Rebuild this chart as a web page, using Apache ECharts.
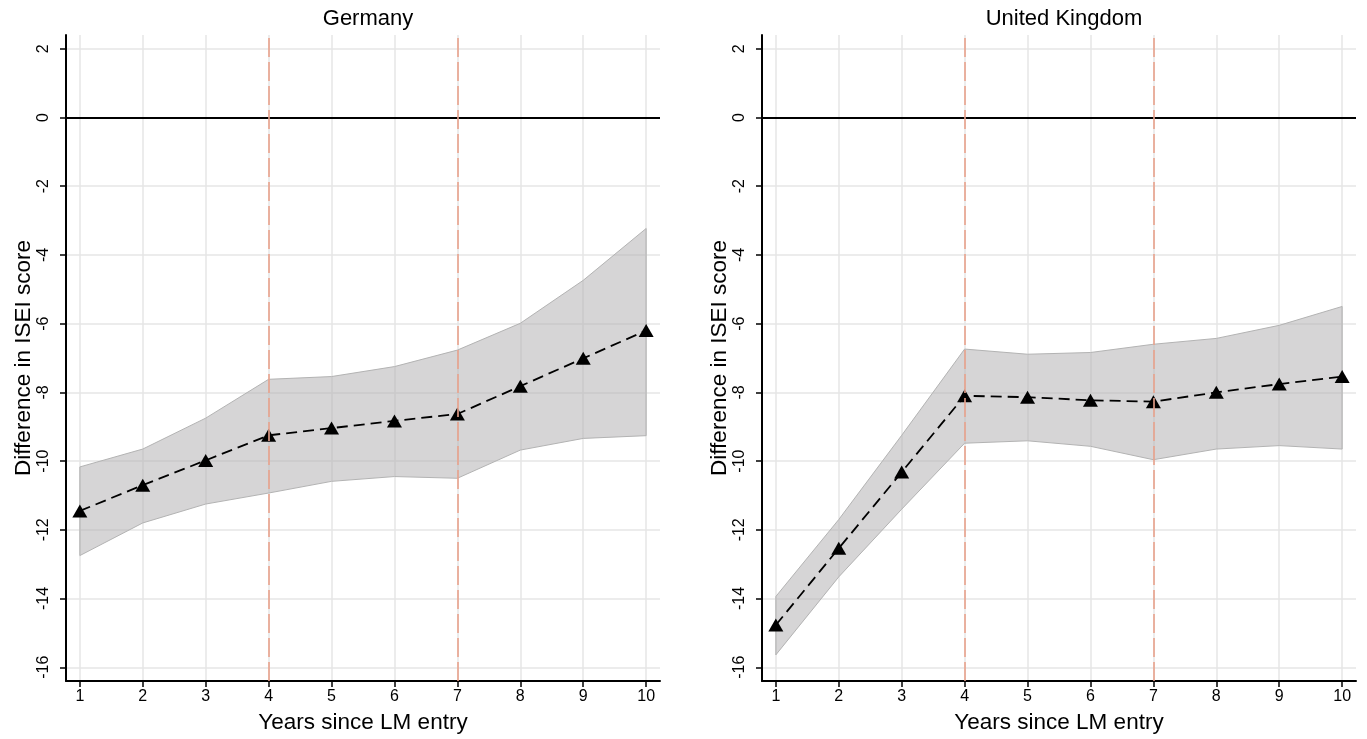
<!DOCTYPE html>
<html><head><meta charset="utf-8">
<script src="https://cdn.jsdelivr.net/npm/echarts@6/dist/echarts.min.js"></script>
<style>html,body{margin:0;padding:0;background:#fff}#c{width:1367px;height:739px}</style>
</head><body><div id="c"></div>
<script>
const years = [1, 2, 3, 4, 5, 6, 7, 8, 9, 10];
const xTicks = [1, 2, 3, 4, 5, 6, 7, 8, 9, 10];
const yTicks = [-16, -14, -12, -10, -8, -6, -4, -2, 0, 2];
const panelTitles = ['Germany', 'United Kingdom'];
const refYears = [4, 7];

const deEst   = [-11.45, -10.70, -9.98, -9.25, -9.04, -8.83, -8.63, -7.82, -7.01, -6.20];
const deUpper = [-10.17, -9.65, -8.75, -7.62, -7.54, -7.25, -6.77, -5.99, -4.74, -3.23];
const deLower = [-12.75, -11.80, -11.25, -10.93, -10.59, -10.45, -10.50, -9.68, -9.34, -9.26];

const ukEst   = [-14.77, -12.54, -10.32, -8.10, -8.14, -8.23, -8.27, -8.00, -7.76, -7.54];
const ukUpper = [-13.94, -11.70, -9.25, -6.74, -6.89, -6.84, -6.60, -6.43, -6.05, -5.50];
const ukLower = [-15.64, -13.37, -11.40, -9.48, -9.41, -9.57, -9.96, -9.65, -9.55, -9.65];

const FONT = 'Liberation Sans, Arial, Helvetica, sans-serif';
const chart = echarts.init(document.getElementById('c'));

const panels = [
  { est: deEst, up: deUpper, lo: deLower },
  { est: ukEst, up: ukUpper, lo: ukLower }
];
const gridLefts = [66, 762];

function xAxisFor(i) {
  return {
    type: 'value', gridIndex: i, min: 0.78, max: 10.22,
    axisLine: { show: true, onZero: false, lineStyle: { color: '#000', width: 2 } },
    axisTick: { show: true, length: 6, customValues: xTicks, lineStyle: { color: '#000', width: 1.5 } },
    axisLabel: { customValues: xTicks, color: '#000', fontSize: 16, margin: 8, fontFamily: FONT },
    splitLine: { show: true, lineStyle: { color: '#e6e6e6', width: 1.5 } },
    name: 'Years since LM entry', nameLocation: 'middle', nameGap: 30,
    nameTextStyle: { fontSize: 22.5, color: '#000', fontFamily: FONT }
  };
}
function yAxisFor(i) {
  return {
    type: 'value', gridIndex: i, min: -16.4, max: 2.4,
    axisLine: { show: true, onZero: false, lineStyle: { color: '#000', width: 2 } },
    axisTick: { show: true, length: 6, customValues: yTicks, lineStyle: { color: '#000', width: 1.5 } },
    axisLabel: { customValues: yTicks, rotate: 90, color: '#000', fontSize: 16, margin: 14, fontFamily: FONT },
    splitLine: { show: true, lineStyle: { color: '#e6e6e6', width: 1.5 } },
    name: 'Difference in ISEI score', nameLocation: 'middle', nameRotate: 90, nameGap: 31,
    nameTextStyle: { fontSize: 22.5, color: '#000', fontFamily: FONT }
  };
}

const series = [];
panels.forEach((p, i) => {
  const bandData = years.map((x, k) => [x, p.lo[k], p.up[k]]);
  series.push({
    type: 'custom', xAxisIndex: i, yAxisIndex: i, z: 1, silent: true,
    data: bandData,
    renderItem: function (params, api) {
      if (params.dataIndex !== 0) return;
      const pts = [];
      bandData.forEach(d => pts.push(api.coord([d[0], d[2]])));
      for (let k = bandData.length - 1; k >= 0; k--) pts.push(api.coord([bandData[k][0], bandData[k][1]]));
      return {
        type: 'polygon',
        shape: { points: pts },
        style: { fill: 'rgba(180,178,180,0.55)', stroke: '#b3b3b3', lineWidth: 1 }
      };
    }
  });
  series.push({
    type: 'line', xAxisIndex: i, yAxisIndex: i, z: 0, silent: true,
    data: [], symbol: 'none',
    markLine: {
      silent: true, symbol: 'none', label: { show: false },
      data: [
        { yAxis: 0, lineStyle: { color: '#000', width: 2, type: 'solid' } }
      ].concat(refYears.map(r => ({ xAxis: r, lineStyle: { color: '#e9a28c', width: 1.6, type: [19, 5] } })))
    }
  });
  series.push({
    type: 'line', xAxisIndex: i, yAxisIndex: i, z: 3,
    data: years.map((x, k) => [x, p.est[k]]),
    symbol: 'triangle', symbolSize: [15, 13],
    itemStyle: { color: '#000' },
    lineStyle: { color: '#000', width: 1.8, type: [11, 6] }
  });
});

chart.setOption({
  animation: false,
  backgroundColor: '#fff',
  title: panelTitles.map((t, i) => ({
    text: t, left: gridLefts[i] + 297, top: 3, textAlign: 'center',
    textStyle: { fontSize: 22, fontWeight: 'normal', color: '#000', fontFamily: FONT }
  })),
  grid: gridLefts.map(l => ({ left: l, top: 35, width: 594, height: 646 })),
  xAxis: [xAxisFor(0), xAxisFor(1)],
  yAxis: [yAxisFor(0), yAxisFor(1)],
  series: series
});
</script></body></html>
